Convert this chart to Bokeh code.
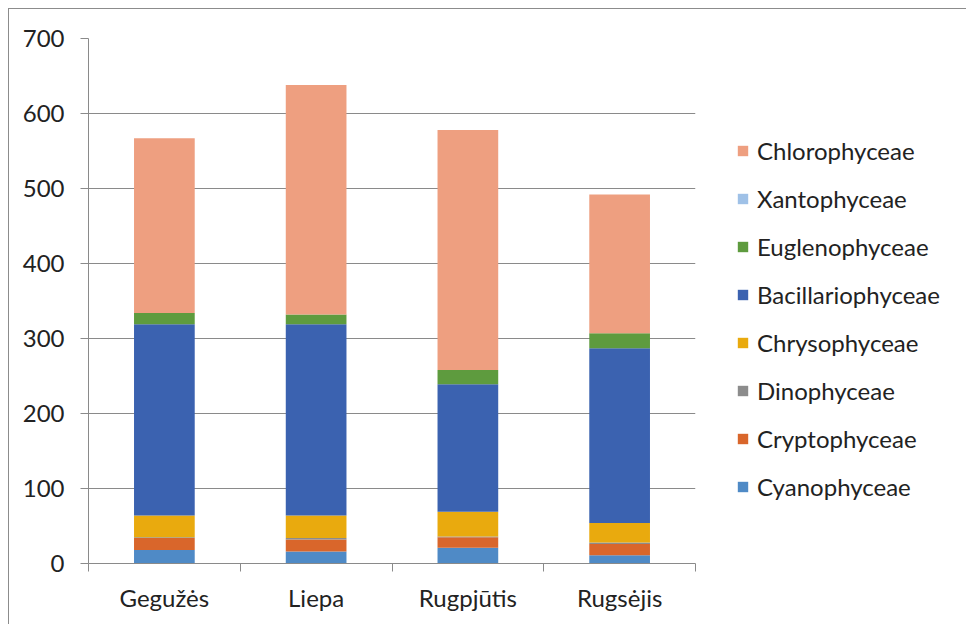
from bokeh.plotting import figure
from bokeh.models import Range1d, FixedTicker, Legend, LegendItem, ColumnDataSource
from bokeh.embed import file_html
from bokeh.resources import INLINE

months = ["Gegužės", "Liepa", "Rugpjūtis", "Rugsėjis"]
cyanophyceae = [18, 16, 21, 11]
cryptophyceae = [16, 16, 14, 15]
dinophyceae = [1, 2, 1, 2]
chrysophyceae = [29, 30, 33, 26]
bacillariophyceae = [255, 255, 170, 233]
euglenophyceae = [15, 13, 19, 20]
xantophyceae = [0, 0, 0, 0]
chlorophyceae = [233, 306, 320, 185]

series = [
    ("Cyanophyceae", cyanophyceae, "#4f8ac6"),
    ("Cryptophyceae", cryptophyceae, "#d9662b"),
    ("Dinophyceae", dinophyceae, "#8c8c8c"),
    ("Chrysophyceae", chrysophyceae, "#e9aa0e"),
    ("Bacillariophyceae", bacillariophyceae, "#3b62b0"),
    ("Euglenophyceae", euglenophyceae, "#5e9b3e"),
    ("Xantophyceae", xantophyceae, "#9fc1e7"),
    ("Chlorophyceae", chlorophyceae, "#ee9f80"),
]

xs = [i + 0.5 for i in range(len(months))]
data = {"x": xs}
for name, vals, _ in series:
    data[name] = vals
src = ColumnDataSource(data)

FONT = "Lato"
GRID = "#8a8a8a"

p = figure(width=955, height=615, output_backend="svg", toolbar_location=None,
           x_range=Range1d(0, len(months)), y_range=Range1d(0, 700),
           min_border_left=79, min_border_top=29, min_border_right=269, min_border_bottom=61,
           frame_width=607, frame_height=525)
p.styles = {"margin-left": "8px", "margin-top": "8px",
            "border-left": "1px solid #8c8c8c", "border-top": "1px solid #8c8c8c"}
p.outline_line_color = None
p.background_fill_color = "white"
p.border_fill_color = "white"

renderers = p.vbar_stack([s[0] for s in series], x="x", width=0.4, source=src,
                         color=[s[2] for s in series], line_color=None)

p.xgrid.visible = False
p.ygrid.grid_line_color = GRID
p.ygrid.grid_line_width = 1
p.yaxis.ticker = FixedTicker(ticks=list(range(0, 701, 100)))
p.yaxis.axis_line_color = GRID
p.yaxis.major_tick_line_color = GRID
p.yaxis.major_tick_out = 8
p.yaxis.major_tick_in = 0
p.yaxis.minor_tick_line_color = None
p.yaxis.major_label_text_font = FONT
p.yaxis.major_label_text_font_size = "24px"
p.yaxis.major_label_text_color = "#222222"
p.yaxis.major_label_standoff = 16

p.xaxis.ticker = FixedTicker(ticks=xs, minor_ticks=list(range(len(months) + 1)))
p.xaxis.major_label_overrides = {x: m for x, m in zip(xs, months)}
p.xaxis.axis_line_color = GRID
p.xaxis.major_tick_line_color = None
p.xaxis.minor_tick_line_color = GRID
p.xaxis.minor_tick_out = 8
p.xaxis.minor_tick_in = 0
p.xaxis.major_label_text_font = FONT
p.xaxis.major_label_text_font_size = "24px"
p.xaxis.major_label_text_color = "#222222"
p.xaxis.major_label_standoff = 11

items = [LegendItem(label=s[0], renderers=[r]) for s, r in zip(series, renderers)]
items = items[::-1]
legend = Legend(items=items, location=(41, 62), orientation="vertical",
                label_text_font=FONT, label_text_font_size="24px", label_text_color="#222222",
                glyph_width=13, glyph_height=13, label_standoff=8, label_height=30,
                spacing=18, padding=0, margin=0, border_line_color=None,
                background_fill_alpha=0)
p.add_layout(legend, "right")

open("out.html", "w").write(file_html(p, INLINE))
